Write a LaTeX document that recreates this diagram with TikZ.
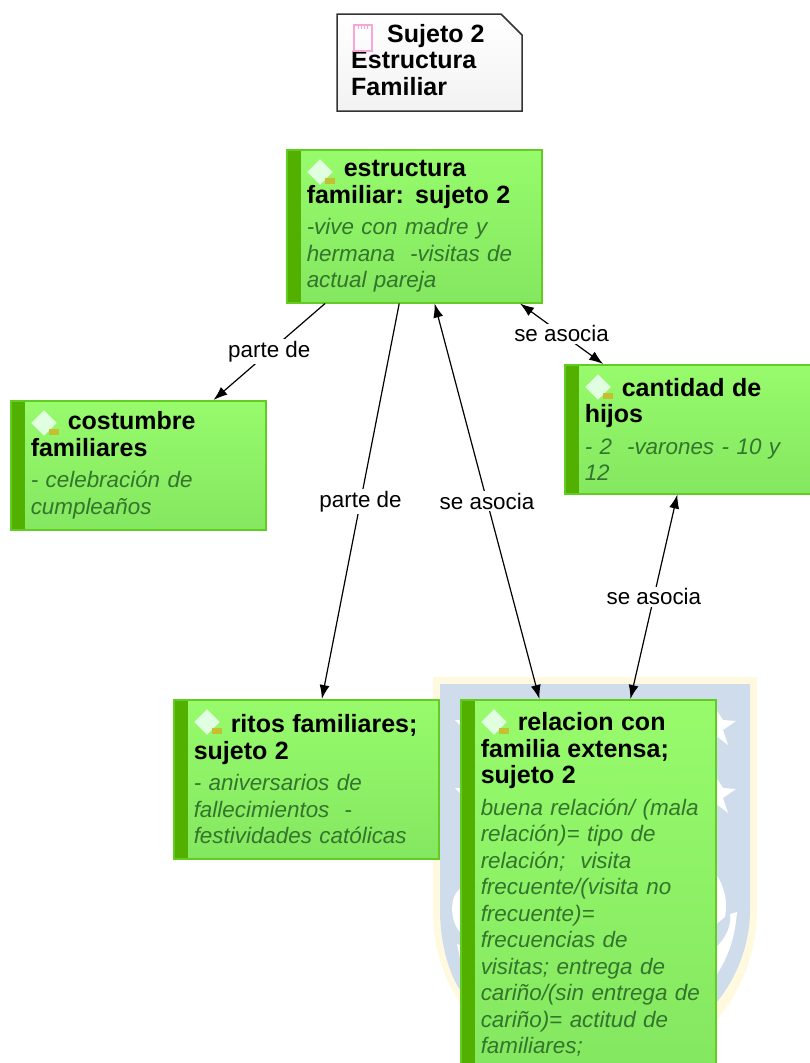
\documentclass[tikz,border=0pt]{standalone}
\usepackage{fontspec}
\setmainfont{Liberation Sans}
\usetikzlibrary{arrows.meta, shapes.geometric}
\definecolor{boxtop}{HTML}{97FB6C}
\definecolor{boxbot}{HTML}{84E760}
\definecolor{boxbar}{HTML}{52B000}
\definecolor{boxline}{HTML}{62CC22}
\definecolor{desctext}{HTML}{33752C}
\definecolor{shieldblue}{HTML}{CEDCEB}
\definecolor{shieldpale}{HTML}{FFF9E0}
\newcommand{\boxtitle}[1]{{\fontsize{25}{26.5}\selectfont\bfseries #1}}
\newcommand{\boxdesc}[1]{{\color{desctext}\itshape #1}}

\begin{document}
\begin{tikzpicture}[
x=1pt, y=1pt,
font=\fontsize{22.4}{26.5}\selectfont,
concept/.style={rectangle, draw=boxline, line width=1.5pt, top color=boxtop, bottom color=boxbot, anchor=north west, minimum width=255pt, text width=235pt, inner xsep=10pt, inner ysep=0pt, execute at begin node={\leftskip=10pt\relax},
  path picture={\fill[boxbar] (path picture bounding box.north west) rectangle ([xshift=14pt]path picture bounding box.south west);}},
gem/.style={diamond, fill=green!12!white, draw=green!6!white, minimum width=25pt, minimum height=25pt, inner sep=0pt},
gemnote/.style={rectangle, fill=yellow!75!black, minimum width=10pt, minimum height=6pt, inner sep=0pt},
linkarrow/.style={{Latex[length=14pt,width=10pt]}-{Latex[length=14pt,width=10pt]}, line width=1.2pt},
partarrow/.style={-{Latex[length=14pt,width=10pt]}, line width=1.2pt},
linklabel/.style={fill=white, inner xsep=1pt, inner ysep=2pt}
]
\clip (0,0) rectangle (810,-1063);

% watermark behind the lower boxes
\fill[shieldpale] (433,-677) -- (757,-677) -- (757,-910) .. controls (757,-960) and (735,-1000) .. (715,-1022) -- (600,-1050) -- (460,-1003) .. controls (445,-980) and (433,-950) .. (433,-910) -- cycle;
\fill[shieldblue] (440,-684) -- (750,-684) -- (750,-910) .. controls (750,-950) and (732,-985) .. (715,-1004) -- (600,-1040) -- (460,-990) .. controls (450,-975) and (440,-945) .. (440,-910) -- cycle;
\fill[white] (715,-708) -- (723,-720) -- (736,-721) -- (723,-730) -- (728,-745) -- (715,-735) -- cycle;
\fill[white] (715,-776) -- (723,-788) -- (736,-789) -- (723,-798) -- (728,-813) -- (715,-803) -- cycle;
\fill[white] (460,-720) -- (455,-720) -- (460,-725) -- cycle;
\fill[white] (460,-788) -- (455,-788) -- (460,-793) -- cycle;
\fill[white] (460,-889) .. controls (450,-895) and (449,-920) .. (460,-932) -- cycle;
\fill[white] (460,-945) -- (457,-944) -- (460,-958) -- cycle;
\fill[white] (715,-873) .. controls (724,-885) and (728,-900) .. (725,-917) -- (715,-925) -- cycle;
\fill[white] (737,-912) .. controls (735,-935) and (730,-955) .. (715,-977) -- (715,-948) .. controls (725,-940) and (732,-925) .. (730,-914) -- cycle;

% note
\fill[top color=white, bottom color=black!5, draw=black!80, line width=1.5pt] (337,-14) -- (501,-14) -- (522,-35) -- (522,-111) -- (337,-111) -- cycle;
\node[anchor=north west, align=left, inner sep=0pt] (nota) at (351,-24) {\boxtitle{\hspace*{36pt}Sujeto 2}\\\boxtitle{Estructura}\\\boxtitle{Familiar}};
\draw[magenta!35, line width=1.2pt] (354,-25) rectangle (372,-51);
\foreach \t in {358,361,364,367} {\draw[magenta!35, line width=0.8pt] (\t,-24) -- (\t,-29);}

% concepts
\node[concept, minimum height=153pt] (estructura) at (286,-149) {\boxtitle{\hspace*{37pt}estructura}\\\boxtitle{familiar: sujeto 2}\\[5pt]\boxdesc{-vive con madre y\\hermana \ -visitas de\\actual pareja}};
\node[concept, minimum height=129pt] (costumbre) at (10,-400) {\boxtitle{\hspace*{37pt}costumbre}\\\boxtitle{familiares}\\[5pt]\boxdesc{- celebración de\\cumpleaños}};
\node[concept, minimum height=129pt] (cantidad) at (564,-364) {\boxtitle{\hspace*{37pt}cantidad de}\\\boxtitle{hijos}\\[5pt]\boxdesc{- 2 \ -varones - 10 y\\12}};
\node[concept, minimum height=159pt, minimum width=265pt, text width=245pt] (ritos) at (173,-699) {\boxtitle{\hspace*{37pt}ritos familiares;}\\\boxtitle{sujeto 2}\\[5pt]\boxdesc{- aniversarios de\\fallecimientos \ -\\festividades católicas}};
\node[concept, minimum height=370pt] (relacion) at (460,-699) {\boxtitle{\hspace*{37pt}relacion con}\\\boxtitle{familia extensa;}\\\boxtitle{sujeto 2}\\[5pt]\boxdesc{buena relación/ (mala\\relación)= tipo de\\relación; \ visita\\frecuente/(visita no\\frecuente)=\\frecuencias de\\visitas; entrega de\\cariño/(sin entrega de\\cariño)= actitud de\\familiares;}};

\foreach \n in {estructura, costumbre, cantidad, ritos, relacion} {
  \node[gem, xshift=34pt, yshift=-23pt] (gem\n) at (\n.north west) {};
  \node[gemnote, xshift=44pt, yshift=-32pt] (gemnote\n) at (\n.north west) {};
}

\draw[partarrow] (estructura) -- node[linklabel]{parte de} (costumbre);
\draw[partarrow] (estructura) -- node[linklabel]{parte de} (ritos);
\draw[linkarrow] (estructura) -- node[linklabel]{se asocia} (relacion);
\draw[linkarrow] (estructura) -- node[linklabel]{se asocia} (cantidad);
\draw[linkarrow] (cantidad) -- node[linklabel]{se asocia} (relacion);

\end{tikzpicture}
\end{document}
